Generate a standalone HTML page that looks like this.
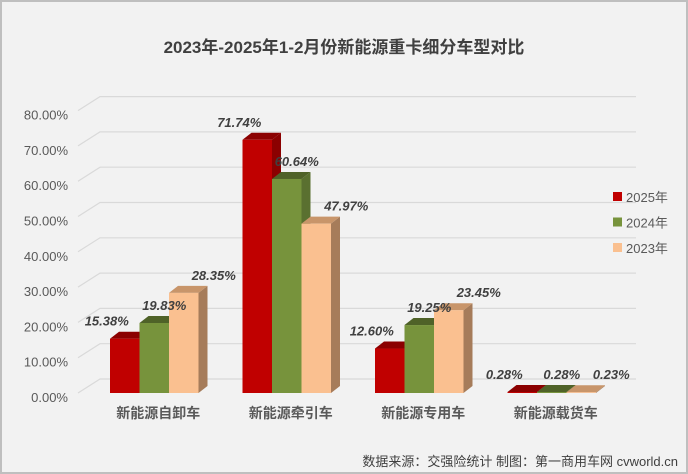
<!DOCTYPE html>
<html><head><meta charset="utf-8">
<style>
html,body{margin:0;padding:0;background:#fff}
#wrap{position:relative;width:688px;height:474px;overflow:hidden}
svg text{font-family:"Liberation Sans","Noto Sans CJK SC",sans-serif}
</style></head>
<body>
<div id="wrap">
<svg id="chart" width="688" height="474" viewBox="0 0 688 474">
<rect x="1" y="1" width="686" height="472" fill="#f2f2f2" stroke="#bfbfbf" stroke-width="2"/>
<text x="344" y="53" text-anchor="middle" font-size="17" font-weight="bold" fill="#404040">2023年-2025年1-2月份新能源重卡细分车型对比</text>
<g id="grid"></g>
<g id="yaxis"></g>
<g id="bars"></g>
<g id="labels"></g>
<g id="xaxis"></g>
<g id="legend"></g>
<text x="678" y="466" text-anchor="end" font-size="13" fill="#404040">数据来源：交强险统计  制图：第一商用车网 cvworld.cn</text>
</svg>
</div>
<script>
const categories = ["新能源自卸车","新能源牵引车","新能源专用车","新能源载货车"];
const seriesNames = ["2025年","2024年","2023年"];
const s2025 = [15.38, 71.74, 12.60, 0.28];
const s2024 = [19.83, 60.64, 19.25, 0.28];
const s2023 = [28.35, 47.97, 23.45, 0.23];
const yTicks = [0,10,20,30,40,50,60,70,80];

const NS="http://www.w3.org/2000/svg";
function mk(tag,attrs,parent){const e=document.createElementNS(NS,tag);for(const k in attrs)e.setAttribute(k,attrs[k]);parent.appendChild(e);return e;}
const base=393, pxPer=3.53, dX=22, dY=-14, bx=9, by=7;
const y=v=>base-v*pxPer;
const groupX=i=>110+i*132.5, barW=29.5;
const front=[["#c00000","#8b0000","#8b0000"],["#77933c","#4f6228","#5a7030"],["#fac090","#c8956a","#a67c5a"]];

const grid=document.getElementById('grid');
const yax=document.getElementById('yaxis');
yTicks.forEach(t=>{
  const yy=y(t);
  const l=mk('polyline',{points:`78,${yy} ${78+dX},${yy+dY} 636,${yy+dY}`,fill:'none',stroke:'#d9d9d9','stroke-width':1.2},grid);
  
  
  const tx=mk('text',{x:68,y:yy+9,'text-anchor':'end','font-size':13,fill:'#595959'},yax);
  tx.textContent=t.toFixed(2)+'%';
  
  
});

const bars=document.getElementById('bars'), labels=document.getElementById('labels'), xax=document.getElementById('xaxis');
const all=[s2025,s2024,s2023];
const lblDx=[-18,10,30];
categories.forEach((c,i)=>{
  all.forEach((s,k)=>{
    const x0=groupX(i)+k*barW, top=y(s[i]), h=base-top;
    const g=mk('g',{},bars);
    
    
    mk('polygon',{points:`${x0+barW},${top} ${x0+barW+bx},${top-by} ${x0+barW+bx},${base-by} ${x0+barW},${base}`,fill:front[k][2]},g);
    mk('polygon',{points:`${x0},${top} ${x0+bx},${top-by} ${x0+barW+bx},${top-by} ${x0+barW},${top}`,fill:front[k][1]},g);
    mk('rect',{x:x0,y:top,width:barW,height:Math.max(h,0.5),fill:front[k][0]},g);
    const t=mk('text',{x:x0+barW/2+lblDx[k],y:top-13,'text-anchor':'middle','font-size':13,'font-weight':'bold','font-style':'italic',fill:'#404040'},labels);
    t.textContent=s[i].toFixed(2)+'%';
    
    
  });
  const ct=mk('text',{x:groupX(i)+barW*1.5+4,y:418,'text-anchor':'middle','font-size':14,'font-weight':'bold',fill:'#595959'},xax);
  ct.textContent=c;
  
  
});

const leg=document.getElementById('legend');
seriesNames.forEach((n,k)=>{
  const g=mk('g',{},leg);
  
  
  const yy=197+k*25.5;
  mk('rect',{x:613,y:yy-5,width:9,height:9,fill:front[k][0]},g);
  const t=mk('text',{x:626,y:yy+5,'font-size':13,fill:'#595959'},g);
  t.textContent=n;
});
</script>
</body></html>
